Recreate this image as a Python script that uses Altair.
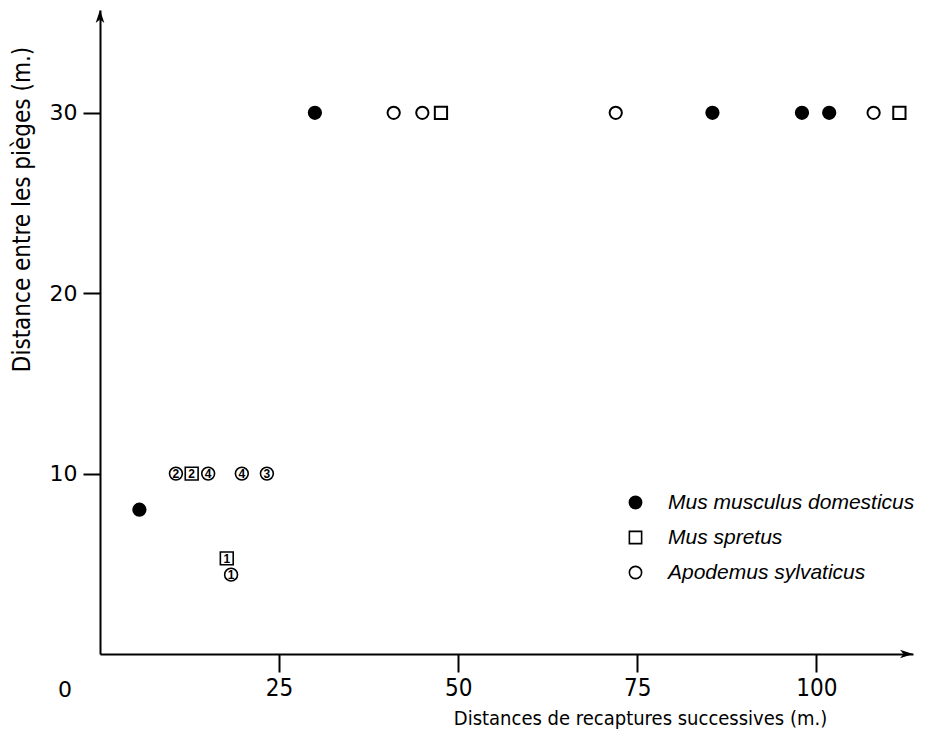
import altair as alt
import pandas as pd

# ---- data ----
species = ["Mus musculus domesticus", "Mus spretus", "Apodemus sylvaticus"]

dom_x = [30, 85.5, 98, 101.8, 5.5]
dom_y = [30, 30, 30, 30, 8]
spr_x = [47.6, 111.6]
spr_y = [30, 30]
apo_x = [41, 45, 72, 108]
apo_y = [30, 30, 30, 30]

# numbered recaptures
num_apo_x = [10.6, 15.1, 19.8, 23.3, 18.3]
num_apo_y = [10, 10, 10, 10, 4.4]
num_apo_lab = ["2", "4", "4", "3", "1"]
num_spr_x = [12.8, 17.7]
num_spr_y = [10, 5.3]
num_spr_lab = ["2", "1"]

x_ticks = [25, 50, 75, 100]
y_ticks = [10, 20, 30]
x_max = 113.5
y_max = 35.7

rows = []
for x, y in zip(dom_x, dom_y):
    rows.append({"x": x, "y": y, "sp": species[0]})
for x, y in zip(spr_x, spr_y):
    rows.append({"x": x, "y": y, "sp": species[1]})
for x, y in zip(apo_x, apo_y):
    rows.append({"x": x, "y": y, "sp": species[2]})
main = pd.DataFrame(rows)

num_rows = []
for x, y, l in zip(num_apo_x, num_apo_y, num_apo_lab):
    num_rows.append({"x": x, "y": y, "lab": l, "shape": "circle"})
for x, y, l in zip(num_spr_x, num_spr_y, num_spr_lab):
    num_rows.append({"x": x, "y": y, "lab": l, "shape": "square"})
numd = pd.DataFrame(num_rows)

xs = alt.Scale(domain=[0, x_max], nice=False, zero=False)
ys = alt.Scale(domain=[0, y_max], nice=False, zero=False)

cond_font = "DejaVu Sans Condensed"

xaxis = alt.Axis(
    values=x_ticks, title="Distances de recaptures successives (m.)",
    grid=False, domainColor="black", domainWidth=2, tickColor="black",
    tickWidth=2, tickSize=18, labelFont=cond_font, labelFontSize=24,
    labelColor="black", labelPadding=4, titleFont=cond_font,
    titleFontSize=20, titleFontWeight="normal", titleColor="black",
    titleX=540, titleY=64, titleBaseline="middle", titleAlign="center",
)
yaxis = alt.Axis(
    values=y_ticks, title="Distance entre les pièges (m.)",
    grid=False, domainColor="black", domainWidth=2, tickColor="black",
    tickWidth=2, tickSize=17, labelFont="DejaVu Sans", labelFontSize=22,
    labelColor="black", labelPadding=6, titleFont=cond_font,
    titleFontSize=24, titleFontWeight="normal", titleColor="black",
    titleX=-78, titleY=199, titleBaseline="middle", titleAlign="center",
    titleAngle=270,
)

leg = alt.Legend(title=None, orient="none", legendX=525, legendY=482,
                 labelFont="Liberation Sans", labelFontSize=21, labelLimit=400,
                 labelFontStyle="italic", labelColor="black",
                 labelOffset=22, rowPadding=13, padding=0,
                 symbolSize=150, symbolStrokeWidth=1.6,
                 symbolStrokeColor="black")

base_pts = alt.Chart(main).mark_point(filled=True, size=150, strokeWidth=2, opacity=1).encode(
    x=alt.X("x:Q", scale=xs, axis=xaxis),
    y=alt.Y("y:Q", scale=ys, axis=yaxis),
    shape=alt.Shape("sp:N", scale=alt.Scale(domain=species, range=["circle", "square", "circle"]), legend=leg),
    fill=alt.Fill("sp:N", scale=alt.Scale(domain=species, range=["black", "white", "white"]), legend=leg),
    stroke=alt.Stroke("sp:N", scale=alt.Scale(domain=species, range=["black", "black", "black"]), legend=leg),
)

num_pts = alt.Chart(numd).mark_point(filled=True, size=165, fill="white", stroke="black", strokeWidth=1.6, opacity=1).encode(
    x=alt.X("x:Q", scale=xs),
    y=alt.Y("y:Q", scale=ys),
    shape=alt.Shape("shape:N", scale=None),
)
num_txt = alt.Chart(numd).mark_text(font="Liberation Sans", fontSize=12, fontWeight="bold", color="black", baseline="middle", align="center", dy=0.5).encode(
    x=alt.X("x:Q", scale=xs),
    y=alt.Y("y:Q", scale=ys),
    text="lab:N",
)

arrows = pd.DataFrame({
    "x": [x_max, 0],
    "y": [0, y_max],
    "shape": ["M0,0 L-3,-1 L-2.2,0 L-3,1 Z", "M0,0 L-1,3 L0,2.2 L1,3 Z"],
})
arrow_marks = alt.Chart(arrows).mark_point(filled=True, size=75, color="black", opacity=1).encode(
    x=alt.X("x:Q", scale=xs),
    y=alt.Y("y:Q", scale=ys),
    shape=alt.Shape("shape:N", scale=None),
)

origin = pd.DataFrame({"x": [0], "y": [0], "t": ["0"]})
origin_txt = alt.Chart(origin).mark_text(font="DejaVu Sans", fontSize=22, color="black", dx=-35, dy=36, baseline="middle").encode(
    x=alt.X("x:Q", scale=xs),
    y=alt.Y("y:Q", scale=ys),
    text="t:N",
)

chart = alt.layer(base_pts, num_pts, num_txt, arrow_marks, origin_txt).properties(
    width=813, height=644,
    autosize=alt.AutoSizeParams(type="none"),
    padding={"left": 92, "top": 2, "right": 10, "bottom": 76},
    background="white",
).configure_view(stroke=None)

chart.save("out.html", embed_options={"renderer": "svg", "actions": False})
